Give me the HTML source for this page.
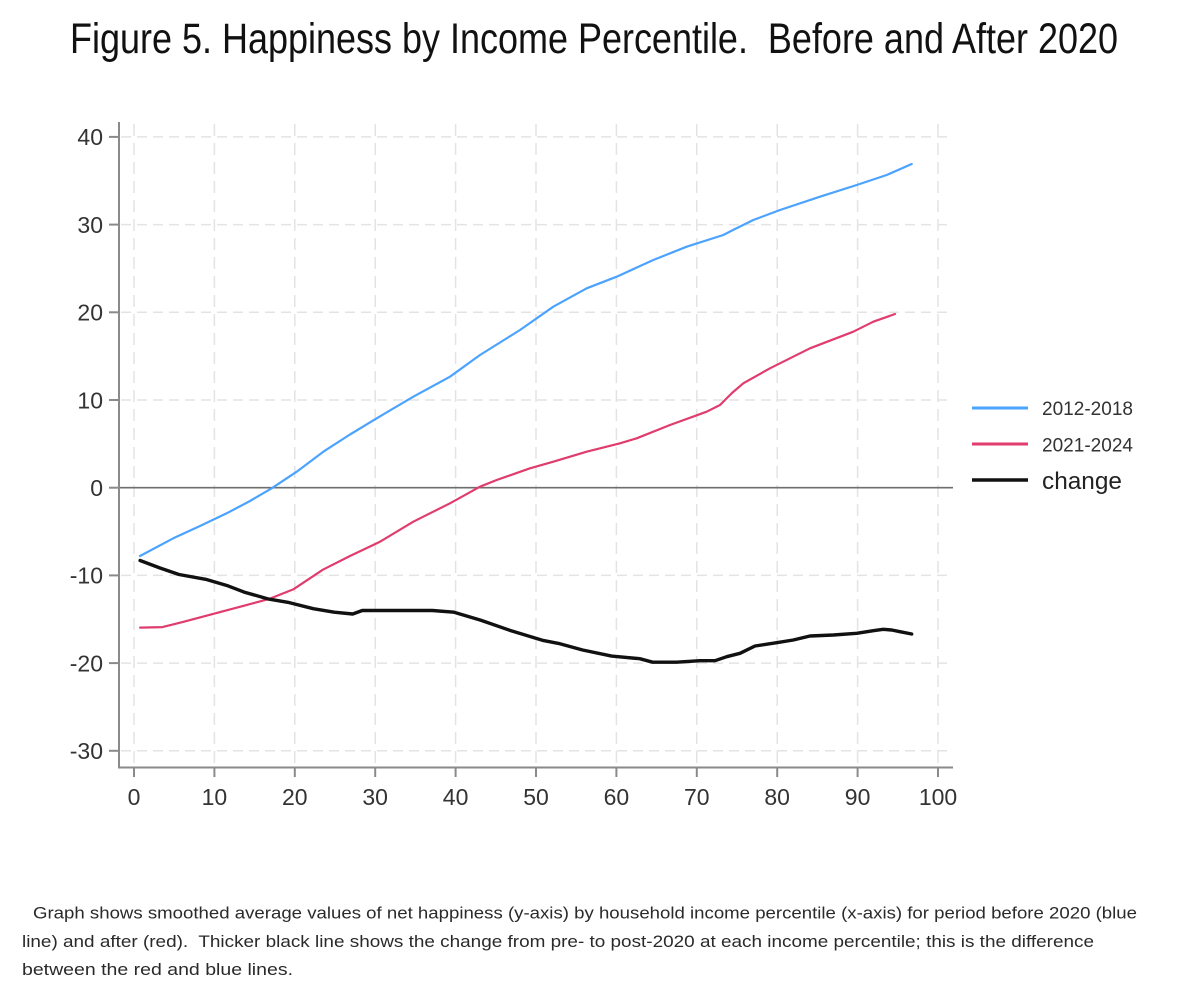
<!DOCTYPE html>
<html>
<head>
<meta charset="utf-8">
<style>
html,body{margin:0;padding:0;background:#fff;}
svg{display:block;}
text{font-family:"Liberation Sans",Arial,sans-serif;}
</style>
</head>
<body>
<svg width="1200" height="1003" viewBox="0 0 1200 1003" xmlns="http://www.w3.org/2000/svg">
<rect x="0" y="0" width="1200" height="1003" fill="#ffffff"/>

<!-- Title -->
<text x="70" y="53" font-size="43" fill="#111" textLength="1048" lengthAdjust="spacingAndGlyphs" style="white-space:pre">Figure 5. Happiness by Income Percentile.  Before and After 2020</text>

<!-- grid horizontal -->
<g stroke="#e3e3e3" stroke-width="1.5" stroke-dasharray="10 6" fill="none">
<line x1="121" y1="136.9" x2="953" y2="136.9"/>
<line x1="121" y1="224.6" x2="953" y2="224.6"/>
<line x1="121" y1="312.3" x2="953" y2="312.3"/>
<line x1="121" y1="400" x2="953" y2="400"/>
<line x1="121" y1="575.4" x2="953" y2="575.4"/>
<line x1="121" y1="663.1" x2="953" y2="663.1"/>
<line x1="121" y1="750.8" x2="953" y2="750.8"/>
</g>
<!-- grid vertical -->
<g stroke="#e3e3e3" stroke-width="1.5" stroke-dasharray="12 7" fill="none">
<line x1="134" y1="124" x2="134" y2="766"/>
<line x1="214.4" y1="124" x2="214.4" y2="766"/>
<line x1="294.8" y1="124" x2="294.8" y2="766"/>
<line x1="375.2" y1="124" x2="375.2" y2="766"/>
<line x1="455.6" y1="124" x2="455.6" y2="766"/>
<line x1="536" y1="124" x2="536" y2="766"/>
<line x1="616.4" y1="124" x2="616.4" y2="766"/>
<line x1="696.8" y1="124" x2="696.8" y2="766"/>
<line x1="777.2" y1="124" x2="777.2" y2="766"/>
<line x1="857.6" y1="124" x2="857.6" y2="766"/>
<line x1="938" y1="124" x2="938" y2="766"/>
</g>

<!-- zero line -->
<line x1="120" y1="487.7" x2="953" y2="487.7" stroke="#6e6e6e" stroke-width="1.6"/>

<!-- axes -->
<g stroke="#8a8a8a" stroke-width="2" fill="none">
<line x1="119" y1="122" x2="119" y2="768"/>
<line x1="118" y1="767.5" x2="953" y2="767.5"/>
<!-- y ticks -->
<line x1="109" y1="136.9" x2="119" y2="136.9"/>
<line x1="109" y1="224.6" x2="119" y2="224.6"/>
<line x1="109" y1="312.3" x2="119" y2="312.3"/>
<line x1="109" y1="400" x2="119" y2="400"/>
<line x1="109" y1="487.7" x2="119" y2="487.7"/>
<line x1="109" y1="575.4" x2="119" y2="575.4"/>
<line x1="109" y1="663.1" x2="119" y2="663.1"/>
<line x1="109" y1="750.8" x2="119" y2="750.8"/>
<!-- x ticks -->
<line x1="134" y1="767" x2="134" y2="777"/>
<line x1="214.4" y1="767" x2="214.4" y2="777"/>
<line x1="294.8" y1="767" x2="294.8" y2="777"/>
<line x1="375.2" y1="767" x2="375.2" y2="777"/>
<line x1="455.6" y1="767" x2="455.6" y2="777"/>
<line x1="536" y1="767" x2="536" y2="777"/>
<line x1="616.4" y1="767" x2="616.4" y2="777"/>
<line x1="696.8" y1="767" x2="696.8" y2="777"/>
<line x1="777.2" y1="767" x2="777.2" y2="777"/>
<line x1="857.6" y1="767" x2="857.6" y2="777"/>
<line x1="938" y1="767" x2="938" y2="777"/>
</g>

<!-- y labels -->
<g font-size="23" fill="#333" text-anchor="end">
<text x="103" y="145.2">40</text>
<text x="103" y="232.9">30</text>
<text x="103" y="320.6">20</text>
<text x="103" y="408.3">10</text>
<text x="103" y="496">0</text>
<text x="103" y="583.7">-10</text>
<text x="103" y="671.4">-20</text>
<text x="103" y="759.1">-30</text>
</g>
<!-- x labels -->
<g font-size="23" fill="#333" text-anchor="middle">
<text x="134" y="805">0</text>
<text x="214.4" y="805">10</text>
<text x="294.8" y="805">20</text>
<text x="375.2" y="805">30</text>
<text x="455.6" y="805">40</text>
<text x="536" y="805">50</text>
<text x="616.4" y="805">60</text>
<text x="696.8" y="805">70</text>
<text x="777.2" y="805">80</text>
<text x="857.6" y="805">90</text>
<text x="938" y="805">100</text>
</g>

<!-- blue series 2012-2018 -->
<polyline fill="none" stroke="#4ba3ff" stroke-width="2.2" stroke-linejoin="round" stroke-linecap="round"
points="140,556 173.3,538.3 200,526 226.7,513.3 250,501 271.7,488.3 296.7,471.7 323.3,451.7 350,434.5 376.7,418.3 413.3,396.7 450,376.7 480,355 520,330 553.3,306.7 586.7,288.3 616.7,276.7 653.3,260 686.7,246.7 723.3,235 735,229 753.3,220 780,210 820,196.7 856.7,185 886.7,175 911.7,164"/>

<!-- red series 2021-2024 -->
<polyline fill="none" stroke="#e03c6e" stroke-width="2.2" stroke-linejoin="round" stroke-linecap="round"
points="140.1,627.6 162.5,627.1 183,621.9 211.2,614.4 244.1,605.7 268.7,599.1 293.2,589.4 322.9,569.7 350,556 380,541.7 413.3,521.7 450,503.3 480,486.7 496.7,480 530,468.3 553.3,461.7 586.7,451.7 620,443.3 636.7,438.3 670,425 706.7,411.7 720,405 732,393 743.3,383.3 770,368.3 810,348.3 853.3,331.7 873.3,321.7 895,314"/>

<!-- black change series -->
<polyline fill="none" stroke="#111" stroke-width="3.4" stroke-linejoin="round" stroke-linecap="round"
points="140.1,560.5 160,568 179,574.5 205.6,579.3 228.1,585.9 244.1,592.1 268.7,599.1 289.2,602.6 313.3,608.7 334.2,612.2 352.7,614 362.3,610.5 395.3,610.5 432.3,610.5 454,612.2 480.5,620.1 509.5,630.2 542.4,640.3 558.5,643.4 582.6,650 611.6,656.1 639.7,658.7 652.6,662.2 676.7,662.2 700,660.7 715,660.7 726.7,656.7 740,653.3 755,646 776.7,642.7 793.3,640 810,636 833.3,635 856.7,633.3 873.3,630.7 883.3,629.3 891.7,630 900,631.7 911.7,634"/>

<!-- legend -->
<line x1="972" y1="408" x2="1028" y2="408" stroke="#4ba3ff" stroke-width="3"/>
<line x1="972" y1="444" x2="1028" y2="444" stroke="#e03c6e" stroke-width="3"/>
<line x1="972" y1="480" x2="1028" y2="480" stroke="#111" stroke-width="3.6"/>
<text x="1042" y="415" font-size="19" fill="#333" textLength="91" lengthAdjust="spacingAndGlyphs">2012-2018</text>
<text x="1042" y="451.5" font-size="19" fill="#333" textLength="91" lengthAdjust="spacingAndGlyphs">2021-2024</text>
<text x="1042" y="489" font-size="24" fill="#222" textLength="80" lengthAdjust="spacingAndGlyphs">change</text>

<!-- caption -->
<g font-size="17" fill="#2a2a2a">
<text x="33" y="918.5" textLength="1104" lengthAdjust="spacingAndGlyphs">Graph shows smoothed average values of net happiness (y-axis) by household income percentile (x-axis) for period before 2020 (blue</text>
<text x="22" y="946.8" textLength="1072" lengthAdjust="spacingAndGlyphs" style="white-space:pre">line) and after (red).  Thicker black line shows the change from pre- to post-2020 at each income percentile; this is the difference</text>
<text x="22" y="975" textLength="271" lengthAdjust="spacingAndGlyphs">between the red and blue lines.</text>
</g>
</svg>
</body>
</html>
